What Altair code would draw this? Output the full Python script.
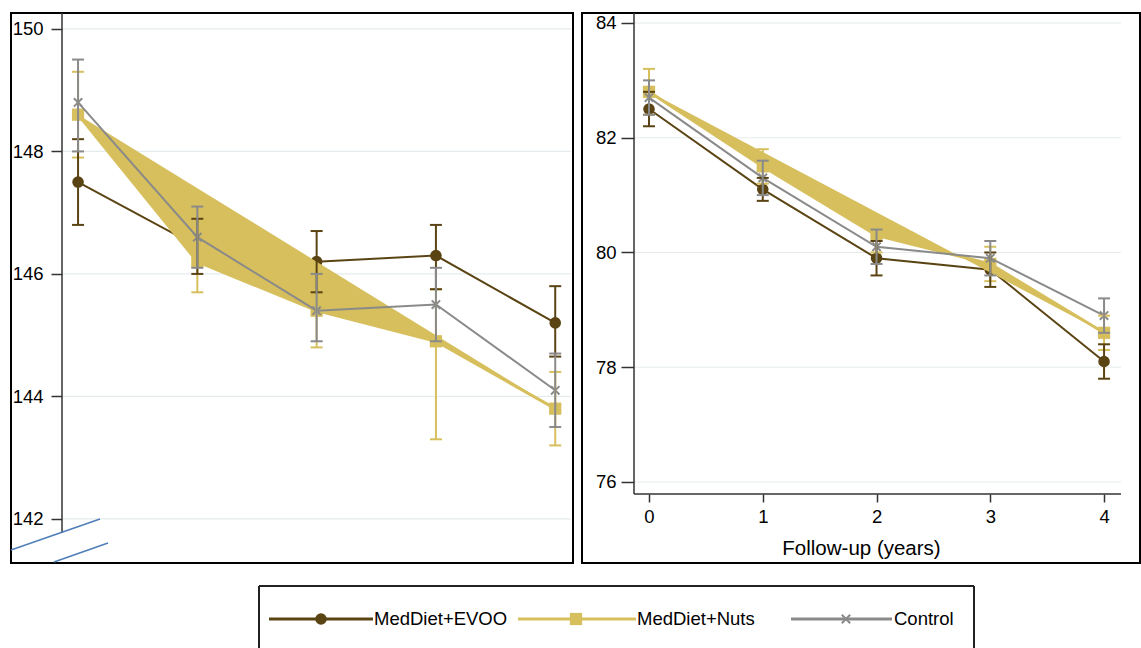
import altair as alt
import pandas as pd

# ---------------- data ----------------
years = [0, 1, 2, 3, 4]
groups = ["MedDiet+EVOO", "MedDiet+Nuts", "Control"]
colors = ["#5b4413", "#d6bf5c", "#8a8a8a"]

# left panel
left_evoo = [147.5, 146.45, 146.2, 146.3, 145.2]
left_evoo_lo = [146.8, 146.0, 145.7, 145.75, 144.65]
left_evoo_hi = [148.2, 146.9, 146.7, 146.8, 145.8]
left_nuts = [148.6, 146.2, 145.4, 144.9, 143.8]
left_nuts_lo = [147.9, 145.7, 144.8, 143.3, 143.2]
left_nuts_hi = [149.3, 146.9, 146.0, 145.75, 144.4]
left_ctrl = [148.8, 146.6, 145.4, 145.5, 144.1]
left_ctrl_lo = [148.0, 146.1, 144.9, 144.9, 143.5]
left_ctrl_hi = [149.5, 147.1, 146.0, 146.1, 144.7]
left_ticks = [142, 144, 146, 148, 150]

# right panel
right_evoo = [82.5, 81.1, 79.9, 79.7, 78.1]
right_evoo_lo = [82.2, 80.9, 79.6, 79.4, 77.8]
right_evoo_hi = [82.8, 81.3, 80.2, 80.0, 78.4]
right_nuts = [82.8, 81.5, 80.3, 79.8, 78.6]
right_nuts_lo = [82.4, 81.2, 80.0, 79.5, 78.3]
right_nuts_hi = [83.2, 81.8, 80.6, 80.1, 78.9]
right_ctrl = [82.7, 81.3, 80.1, 79.9, 78.9]
right_ctrl_lo = [82.4, 81.0, 79.8, 79.6, 78.6]
right_ctrl_hi = [83.0, 81.6, 80.4, 80.2, 79.2]
right_ticks = [76, 78, 80, 82, 84]
x_title = "Follow-up (years)"

FONT = "Liberation Sans"


def build_df(series):
    rows = []
    for g, (m, lo, hi) in zip(groups, series):
        for x, a, b, c in zip(years, m, lo, hi):
            rows.append({"year": x, "group": g, "mean": a, "lo": b, "hi": c})
    return pd.DataFrame(rows)


def panel(series, yticks, xdom, ydom, width, height, yoff, xoff, show_x,
          grid_x1, yline_y2, xline_x2, breaks, ytick, ypad):
    df = build_df(series)
    nuts = series[1][0]
    band = pd.DataFrame({
        "year": years,
        "nuts": nuts,
        "chord": [nuts[0] + (nuts[-1] - nuts[0]) * x / (years[-1] - years[0]) for x in years],
    })
    xs = alt.Scale(domain=xdom, nice=False, zero=False)
    ys = alt.Scale(domain=ydom, nice=False, zero=False)
    yaxis = alt.Axis(values=yticks, offset=yoff, domain=False, grid=False,
                     tickSize=ytick, tickColor="#333333", tickWidth=1.5,
                     labelFontSize=18.5, labelFont=FONT, labelColor="black",
                     labelPadding=ypad, title=None, format="d")
    if show_x:
        xaxis = alt.Axis(values=years, offset=xoff, domain=False, grid=False,
                         tickSize=8, tickColor="#333333", tickWidth=1.5,
                         labelFontSize=18.5, labelFont=FONT, labelColor="black",
                         labelPadding=5, title=x_title, titleFontSize=20.5,
                         titleFont=FONT, titleFontWeight="normal",
                         titleColor="black", titlePadding=13, format="d")
    else:
        xaxis = None

    def X(field):
        return alt.X(field, type="quantitative", scale=xs, axis=xaxis)

    def Y(field):
        return alt.Y(field, type="quantitative", scale=ys, axis=yaxis)

    one = pd.DataFrame({"k": [0]})
    layers = []
    grid = alt.Chart(pd.DataFrame({"v": yticks})).mark_rule(
        color="#e6ecee", strokeWidth=1.2).encode(
        y=Y("v"), x=alt.value(-yoff), x2=alt.value(grid_x1))
    layers.append(grid)

    def sub(g):
        return df[df["group"] == g]

    evoo_c, nuts_c, ctrl_c = colors
    # EVOO
    layers.append(alt.Chart(sub(groups[0])).mark_line(color=evoo_c, strokeWidth=2).encode(x=X("year"), y=Y("mean")))
    layers.append(alt.Chart(sub(groups[0])).mark_point(shape="circle", filled=True, opacity=1, size=135, color=evoo_c).encode(x=X("year"), y=Y("mean")))
    # Nuts band + line + squares
    layers.append(alt.Chart(band).mark_area(color=nuts_c, opacity=1).encode(x=X("year"), y=Y("nuts"), y2="chord"))
    layers.append(alt.Chart(sub(groups[1])).mark_line(color=nuts_c, strokeWidth=3).encode(x=X("year"), y=Y("mean")))
    layers.append(alt.Chart(sub(groups[1])).mark_point(shape="square", filled=True, opacity=1, size=150, color=nuts_c).encode(x=X("year"), y=Y("mean")))
    # Control
    layers.append(alt.Chart(sub(groups[2])).mark_line(color=ctrl_c, strokeWidth=2).encode(x=X("year"), y=Y("mean")))
    layers.append(alt.Chart(sub(groups[2])).mark_point(shape="M-1,-1L1,1M-1,1L1,-1", filled=False, opacity=1, size=70, strokeWidth=2, color=ctrl_c).encode(x=X("year"), y=Y("mean")))
    # error bars (drawn: Nuts, EVOO, Control)
    for gi in [1, 0, 2]:
        g, c = groups[gi], colors[gi]
        d = sub(g)
        layers.append(alt.Chart(d).mark_rule(color=c, strokeWidth=2).encode(x=X("year"), y=Y("lo"), y2="hi"))
        layers.append(alt.Chart(d).mark_tick(color=c, orient="horizontal", size=12, thickness=2, opacity=1).encode(x=X("year"), y=Y("lo")))
        layers.append(alt.Chart(d).mark_tick(color=c, orient="horizontal", size=12, thickness=2, opacity=1).encode(x=X("year"), y=Y("hi")))
    # axis lines
    layers.append(alt.Chart(one).mark_rule(color="#333333", strokeWidth=1.5).encode(
        x=alt.value(-yoff), y=alt.value(0), y2=alt.value(yline_y2)))
    if show_x:
        layers.append(alt.Chart(one).mark_rule(color="#333333", strokeWidth=1.5).encode(
            x=alt.value(-yoff), x2=alt.value(xline_x2), y=alt.value(height + xoff)))
    for (x0, y0, x1, y1) in breaks:
        layers.append(alt.Chart(one).mark_rule(color="#4f7fb8", strokeWidth=1.6).encode(
            x=alt.value(x0), y=alt.value(y0), x2=alt.value(x1), y2=alt.value(y1)))
    return alt.layer(*layers).properties(
        width=width, height=height,
        view=alt.ViewBackground(stroke="black", strokeWidth=2))


left = panel(
    [(left_evoo, left_evoo_lo, left_evoo_hi),
     (left_nuts, left_nuts_lo, left_nuts_hi),
     (left_ctrl, left_ctrl_lo, left_ctrl_hi)],
    left_ticks, [-0.562, 4.149], [141.28, 150.26], 562, 550, -51, 0, False,
    560, 520, 0, [(0, 537, 89, 506), (43, 549, 97, 530)], 11, 8)

right = panel(
    [(right_evoo, right_evoo_lo, right_evoo_hi),
     (right_nuts, right_nuts_lo, right_nuts_hi),
     (right_ctrl, right_ctrl_lo, right_ctrl_hi)],
    right_ticks, [-0.589, 4.316], [74.588, 84.174], 558, 550, -52, -69, True,
    539, 481, 539, [], 13, 5)

# ---------------- legend ----------------
one = pd.DataFrame({"k": [0]})
leg_layers = []
LB_L, LB_R, LB_B, LY = 248, 963, 62, 33
for (x0, y0, x1, y1) in [(LB_L, 0, LB_R, 0), (LB_L, 0, LB_L, LB_B), (LB_R, 0, LB_R, LB_B)]:
    leg_layers.append(alt.Chart(one).mark_rule(color="#222222", strokeWidth=2).encode(
        x=alt.value(x0), y=alt.value(y0), x2=alt.value(x1), y2=alt.value(y1)))
entries = [
    (258, 362, 310, 363, "circle", True, 135),
    (507, 625, 565, 626, "square", True, 150),
    (780, 881, 835, 883, "M-1,-1L1,1M-1,1L1,-1", False, 70),
]
for g, c, (l0, l1, mx, tx, shp, fill, sz) in zip(groups, colors, entries):
    leg_layers.append(alt.Chart(one).mark_rule(color=c, strokeWidth=3).encode(
        x=alt.value(l0), x2=alt.value(l1), y=alt.value(LY)))
    leg_layers.append(alt.Chart(one).mark_point(shape=shp, filled=fill, size=sz, opacity=1,
                                                  strokeWidth=2, color=c).encode(
        x=alt.value(mx), y=alt.value(LY)))
    leg_layers.append(alt.Chart(one).mark_text(align="left", baseline="middle", fontSize=18.5,
                                                 font=FONT, color="black").encode(
        x=alt.value(tx), y=alt.value(LY), text=alt.value(g)))
legend = alt.layer(*leg_layers).properties(
    width=963, height=60, view=alt.ViewBackground(stroke="transparent", strokeWidth=0))

chart = alt.vconcat(
    alt.hconcat(left, right, spacing=7),
    legend, spacing=21,
).properties(
    padding={"left": 9, "top": 11, "right": 0, "bottom": 0},
    background="white",
)

chart.save("out.html", embed_options={"renderer": "svg", "actions": False})
